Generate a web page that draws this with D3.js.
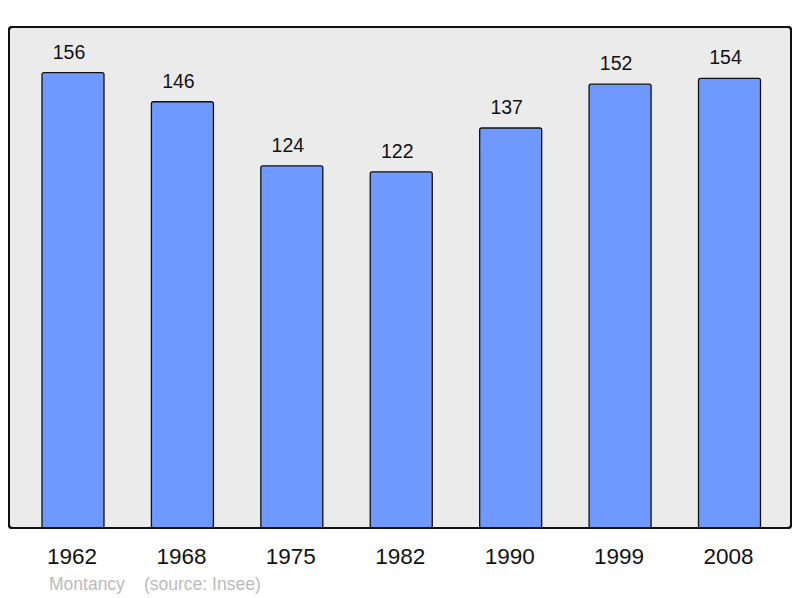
<!DOCTYPE html>
<html>
<head>
<meta charset="utf-8">
<script src="https://cdn.jsdelivr.net/npm/d3@7"></script>
<style>
  body { margin: 0; background: #fff; }
  text { font-family: "Liberation Sans", Arial, sans-serif; }
</style>
</head>
<body>
<svg id="chart" width="800" height="598"></svg>
<script>
const years = ["1962", "1968", "1975", "1982", "1990", "1999", "2008"];
const population = [156, 146, 124, 122, 137, 152, 154];
const commune = "Montancy";
const source = "(source: Insee)";

const width = 800, height = 598;
const frame = { left: 9, top: 27, right: 791, bottom: 528 };
const barWidth = 62;

const svg = d3.select("#chart");

// plot background
svg.append("rect")
    .attr("x", frame.left).attr("y", frame.top)
    .attr("width", frame.right - frame.left)
    .attr("height", frame.bottom - frame.top)
    .attr("rx", 3)
    .attr("fill", "#ebebeb")
    .attr("stroke", "#111")
    .attr("stroke-width", 2);

const x = d3.scalePoint().domain(years).range([73, 729.5]);
const y = d3.scaleLinear()
    .domain([0, d3.max(population) * 1.1])
    .range([frame.bottom, frame.top]);

const data = years.map((yr, i) => ({ year: yr, value: population[i] }));

svg.append("g").selectAll("rect")
    .data(data)
    .join("rect")
    .attr("x", d => x(d.year) - barWidth / 2)
    .attr("y", d => y(d.value))
    .attr("width", barWidth)
    .attr("height", d => frame.bottom - y(d.value))
    .attr("rx", 2)
    .attr("fill", "#7099ff")
    .attr("stroke", "#111")
    .attr("stroke-width", 1.3);

// value labels
svg.append("g").selectAll("text")
    .data(data)
    .join("text")
    .attr("x", d => x(d.year) - 4)
    .attr("y", d => y(d.value) - 14)
    .attr("text-anchor", "middle")
    .attr("font-size", 19.5)
    .attr("fill", "#111")
    .text(d => d.value);

// redraw frame border on top of bars' bottom edges
svg.append("rect")
    .attr("x", frame.left).attr("y", frame.top)
    .attr("width", frame.right - frame.left)
    .attr("height", frame.bottom - frame.top)
    .attr("rx", 3)
    .attr("fill", "none")
    .attr("stroke", "#111")
    .attr("stroke-width", 2);

// year axis
svg.append("g").selectAll("text")
    .data(years)
    .join("text")
    .attr("x", d => x(d) - 1)
    .attr("y", 564)
    .attr("text-anchor", "middle")
    .attr("font-size", 22.5)
    .attr("fill", "#111")
    .text(d => d);

// footer
svg.append("text")
    .attr("x", 49).attr("y", 590)
    .attr("font-size", 17.5)
    .attr("fill", "#bbb")
    .text(commune);
svg.append("text")
    .attr("x", 144).attr("y", 590)
    .attr("font-size", 17.5)
    .attr("fill", "#bbb")
    .text(source);
</script>
</body>
</html>
